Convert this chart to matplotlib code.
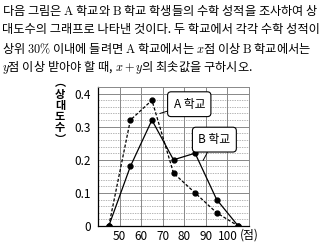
import matplotlib.pyplot as plt
import numpy as np

plt.rcParams['font.family'] = ['Noto Sans CJK KR', 'DejaVu Sans']
plt.rcParams['mathtext.fontset'] = 'cm'

# class midpoints and relative frequencies
scores = [45, 55, 65, 75, 85, 95, 105]
school_a = [0, 0.32, 0.38, 0.16, 0.10, 0.04, 0]
school_b = [0, 0.18, 0.32, 0.20, 0.22, 0.08, 0]
x_ticks = [50, 60, 70, 80, 90, 100]
y_ticks = [0, 0.1, 0.2, 0.3, 0.4]

question = [
    r'다음 그림은 $\mathrm{A}$ 학교와 $\mathrm{B}$ 학교 학생들의 수학 성적을 조사하여 상',
    r'대도수의 그래프로 나타낸 것이다. 두 학교에서 각각 수학 성적이',
    r'상위 $30\%$ 이내에 들려면 $\mathrm{A}$ 학교에서는 $x$점 이상 $\mathrm{B}$ 학교에서는',
    r'$y$점 이상 받아야 할 때, $x+y$의 최솟값을 구하시오.',
]

fig = plt.figure(figsize=(3.2, 2.43), dpi=100)
for i, line in enumerate(question):
    fig.text(0.006, 1 - (10 + 19 * i) / 243, line, fontsize=8.8, va='center', ha='left')

ax = fig.add_axes([98 / 320, 17 / 243, 151 / 320, 139 / 243])
ax.set_xlim(40, 110)
ax.set_ylim(0, 0.42)

# minor dashed grid every 0.02
for y in np.arange(0.02, 0.42, 0.02):
    if abs(y * 10 - round(y * 10)) > 1e-6:
        ax.axhline(y, color='#999999', lw=0.5, ls=(0, (2, 1.5)), zorder=1)
for y in y_ticks[1:]:
    ax.axhline(y, color='#888888', lw=0.7, zorder=1)
for x in x_ticks:
    ax.axvline(x, color='#888888', lw=0.7, zorder=1)

for s in ['top', 'right']:
    ax.spines[s].set_color('#888888')
    ax.spines[s].set_linewidth(0.7)
for s in ['left', 'bottom']:
    ax.spines[s].set_color('black')
    ax.spines[s].set_linewidth(0.9)

ax.plot(scores, school_a, color='black', lw=0.9, ls=(0, (2.5, 1.5)),
        marker='o', ms=3.5, zorder=3)
ax.plot(scores, school_b, color='black', lw=0.9, ls='-',
        marker='o', ms=3.5, zorder=3)

ax.set_xticks(x_ticks)
ax.set_yticks(y_ticks)
ax.set_yticklabels(['0', '0.1', '0.2', '0.3', '0.4'])
ax.tick_params(axis='x', length=0, labelsize=8.5, pad=3)
ax.tick_params(axis='y', length=0, labelsize=8.5, pad=5)
ax.text(105.6, -0.027, '(점)', fontsize=8.5, ha='left', va='center')

# stacked y label with vertical-form parentheses
fig.text(60 / 320, 1 - 111 / 243, '︵\n상\n대\n도\n수\n︶', fontsize=8,
         ha='center', va='center', fontweight='bold', linespacing=0.82)

box = dict(boxstyle='round,pad=0.5,rounding_size=0.3', fc='white', ec='black', lw=0.8)
ax.annotate('A 학교', xy=(68.7, 0.34), xytext=(75, 0.368), fontsize=8.5,
            ha='left', va='center', bbox=box,
            arrowprops=dict(arrowstyle='-', color='black', lw=0.7, shrinkA=0, shrinkB=0))
ax.annotate('B 학교', xy=(88.7, 0.198), xytext=(86.5, 0.261), fontsize=8.5,
            ha='left', va='center', bbox=box,
            arrowprops=dict(arrowstyle='-', color='black', lw=0.7, shrinkA=0, shrinkB=0))

fig.savefig('out.png', dpi=100)
